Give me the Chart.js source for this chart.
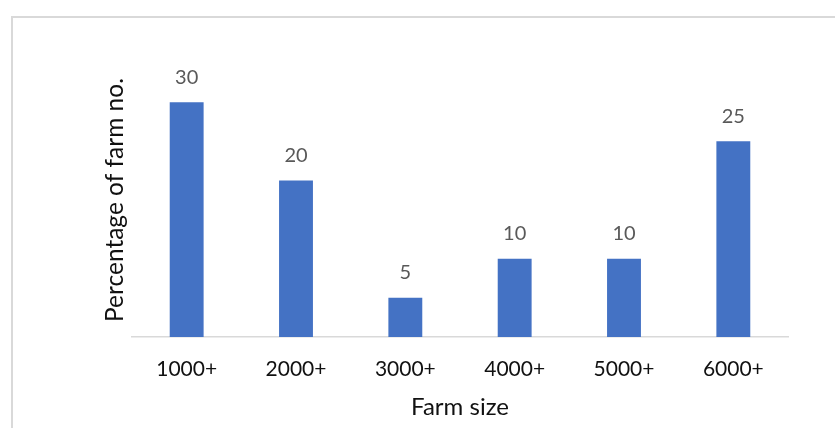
<!DOCTYPE html>
<html>
<head>
<meta charset="utf-8">
<script src="https://cdn.jsdelivr.net/npm/chart.js@4/dist/chart.umd.min.js"></script>
<style>
  html, body { margin: 0; padding: 0; background: #fff; }
  #wrap { position: relative; width: 835px; height: 428px; overflow: hidden; }
  #frame { position: absolute; left: 11px; top: 16px; width: 900px; height: 500px;
           border-top: 2px solid #d9d9d9; border-left: 2px solid #d9d9d9; }
  #chart { position: absolute; left: 0; top: 0; }
</style>
</head>
<body>
<div id="wrap">
  <div id="frame"></div>
  <canvas id="chart" width="835" height="428"></canvas>
</div>
<script>
// Share of farms by farm size band
const farmSizes = ['1000+', '2000+', '3000+', '4000+', '5000+', '6000+'];
const farmPercent = [30, 20, 5, 10, 10, 25];

const FONT = 'Lato, "Open Sans", sans-serif';

// Writes each bar's value just above it
const valueLabels = {
  id: 'valueLabels',
  afterDatasetsDraw(chart) {
    const ctx = chart.ctx;
    const meta = chart.getDatasetMeta(0);
    ctx.save();
    ctx.font = '20px ' + FONT;
    ctx.fillStyle = '#595959';
    ctx.textAlign = 'center';
    ctx.textBaseline = 'middle';
    meta.data.forEach((bar, i) => {
      ctx.fillText(String(farmPercent[i]), bar.x, bar.y - 25);
    });
    ctx.restore();
  }
};

new Chart(document.getElementById('chart'), {
  type: 'bar',
  data: {
    labels: farmSizes,
    datasets: [{
      data: farmPercent,
      backgroundColor: '#4472c4',
      borderWidth: 0,
      categoryPercentage: 1.0,
      barPercentage: 0.31
    }]
  },
  options: {
    responsive: false,
    animation: false,
    layout: { padding: { top: 63, right: 47, bottom: 0, left: 0 } },
    plugins: { legend: { display: false }, tooltip: { enabled: false } },
    scales: {
      x: {
        grid: { display: false, drawTicks: false },
        border: { display: true, color: '#d9d9d9', width: 1.5 },
        ticks: { color: '#111', font: { family: FONT, size: 21 }, padding: 20, maxRotation: 0 },
        title: { display: true, text: 'Farm size', color: '#111',
                 font: { family: FONT, size: 24 }, padding: { top: 0, bottom: 6 } },
        afterFit(scale) { scale.height = 91; }
      },
      y: {
        min: 0,
        max: 35,
        grid: { display: false, drawTicks: false },
        border: { display: false },
        ticks: { display: false },
        title: { display: true, text: 'Percentage of farm no.', color: '#111',
                 font: { family: FONT, size: 24.5 }, padding: { top: 100, bottom: 0 } },
        afterFit(scale) { scale.width = 132; }
      }
    }
  },
  plugins: [valueLabels]
});
</script>
</body>
</html>
